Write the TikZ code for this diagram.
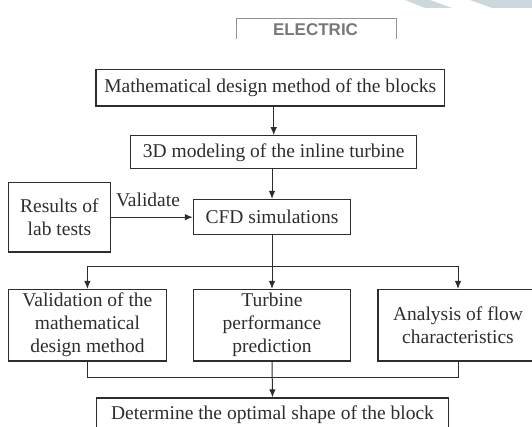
\documentclass[tikz,border=0pt]{standalone}
\usepackage{fontspec}
\setmainfont{Liberation Serif}
\newfontfamily\elecfont{Liberation Sans}
\usetikzlibrary{arrows.meta}
\definecolor{ink}{RGB}{45,45,45}
\definecolor{wm}{RGB}{205,215,222}
\definecolor{elec}{RGB}{120,120,120}
\begin{document}
\begin{tikzpicture}[x=1pt,y=-1pt,
  box/.style={draw=ink,line width=1.3pt,rectangle,inner sep=0pt,align=center,
    text=ink,font=\fontsize{19.5}{23}\selectfont},
  conn/.style={draw=ink,line width=1pt},
  arr/.style={conn,-{Latex[length=8pt,width=6.5pt]}}]
\useasboundingbox (0,0) rectangle (532,427);
\begin{scope}
\clip (0,0) rectangle (532,427);
% watermark stripes
\fill[wm] (405,0) -- (430,0) -- (452,8) -- (425,8) -- cycle;
\fill[wm] (470,0) -- (532,0) -- (532,8) -- (492,8) -- cycle;
% partial ELECTRIC box
\draw[elec!80,line width=1.2pt] (236.7,39) -- (236.7,18.3) -- (396.7,18.3) -- (396.7,39);
\node[text=elec,font=\elecfont\bfseries\fontsize{17}{20}\selectfont] (elec) at (315.5,29.5) {ELECTRIC};
% boxes
\node[box,minimum width=348.5pt,minimum height=36.3pt] (b1) at (270.3,87.75) {Mathematical design method of the blocks};
\node[box,minimum width=286pt,minimum height=33pt] (b2) at (273.7,152.3) {3D modeling of the inline turbine};
\node[box,minimum width=157pt,minimum height=35pt] (cfd) at (272,217) {CFD simulations};
\node[box,minimum width=102pt,minimum height=69.6pt] (res) at (59.4,217.2) {Results of\\lab tests};
\node[text=ink,font=\fontsize{19.5}{23}\selectfont,inner sep=0pt] (val) at (148,200) {Validate};
\node[box,minimum width=158pt,minimum height=71.3pt] (A) at (87.4,325.2) {Validation of the\\mathematical\\design method};
\node[box,minimum width=157pt,minimum height=71.3pt] (B) at (272,325.2) {Turbine\\performance\\prediction};
\node[box,minimum width=160pt,minimum height=71.3pt] (C) at (458,325.2) {Analysis of flow\\characteristics};
\node[box,minimum width=352pt,minimum height=34pt] (D) at (272.5,415) {Determine the optimal shape of the block};
\coordinate (j1) at (272,266.2);
\coordinate (j2) at (272,377.4);
% connectors
\draw[arr] (b2.north |- b1.south) -- (b2.north);
\draw[arr] (cfd.north |- b2.south) -- (cfd.north);
\draw[arr] (res.east) -- (res.east -| cfd.west);
\draw[conn] (cfd.south) -- (j1);
\draw[conn] (A.north |- j1) -- (C.north |- j1);
\draw[arr] (A.north |- j1) -- (A.north);
\draw[arr] (j1) -- (B.north);
\draw[arr] (C.north |- j1) -- (C.north);
\draw[conn] (A.south) -- (A.south |- j2) -- (C.south |- j2) -- (C.south);
\draw[arr] (B.south) -- (D.north);
\end{scope}
\end{tikzpicture}
\end{document}
